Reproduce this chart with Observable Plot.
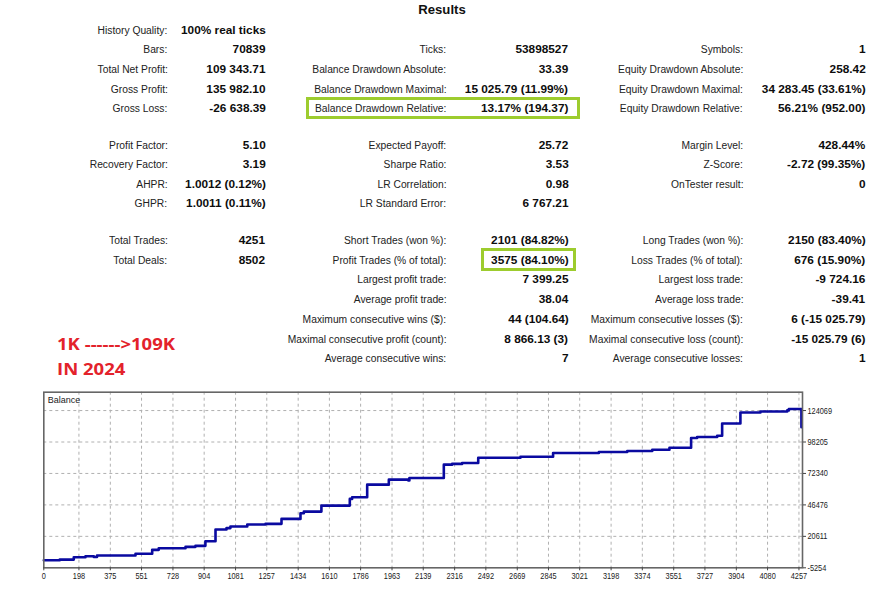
<!DOCTYPE html>
<html>
<head>
<meta charset="utf-8">
<script src="https://cdn.jsdelivr.net/npm/d3@7"></script>
<script src="https://cdn.jsdelivr.net/npm/@observablehq/plot@0.6"></script>
<style>
  html, body { margin: 0; padding: 0; background: #fff; }
  #page { position: relative; width: 873px; height: 600px; overflow: hidden; background: #fff; }
  .t { position: absolute; white-space: nowrap; line-height: 14px; height: 14px; }
  .lab { font-family: "Liberation Sans", Arial, sans-serif; font-size: 11.7px; color: #222; transform-origin: right center; text-align: right; }
  .val { font-family: "Liberation Sans", Arial, sans-serif; font-size: 11.7px; font-weight: bold; color: #0d0d0d; transform-origin: right center; text-align: right; }
  .box { position: absolute; box-sizing: border-box; border: 3.3px solid #9dcc2e; }
  #chart { position: absolute; left: 0; top: 385px; }
</style>
</head>
<body>
<div id="page"></div>
<script>
// ---------- DATA ----------
const title = "Results";
const col1Labels = ["History Quality:", "Bars:", "Total Net Profit:", "Gross Profit:", "Gross Loss:", "Profit Factor:", "Recovery Factor:", "AHPR:", "GHPR:", "Total Trades:", "Total Deals:", "", "", "", "", ""];
const col1Values = ["100% real ticks", "70839", "109 343.71", "135 982.10", "-26 638.39", "5.10", "3.19", "1.0012 (0.12%)", "1.0011 (0.11%)", "4251", "8502", "", "", "", "", ""];
const col2Labels = ["", "Ticks:", "Balance Drawdown Absolute:", "Balance Drawdown Maximal:", "Balance Drawdown Relative:", "Expected Payoff:", "Sharpe Ratio:", "LR Correlation:", "LR Standard Error:", "Short Trades (won %):", "Profit Trades (% of total):", "Largest profit trade:", "Average profit trade:", "Maximum consecutive wins ($):", "Maximal consecutive profit (count):", "Average consecutive wins:"];
const col2Values = ["", "53898527", "33.39", "15 025.79 (11.99%)", "13.17% (194.37)", "25.72", "3.53", "0.98", "6 767.21", "2101 (84.82%)", "3575 (84.10%)", "7 399.25", "38.04", "44 (104.64)", "8 866.13 (3)", "7"];
const col3Labels = ["", "Symbols:", "Equity Drawdown Absolute:", "Equity Drawdown Maximal:", "Equity Drawdown Relative:", "Margin Level:", "Z-Score:", "OnTester result:", "", "Long Trades (won %):", "Loss Trades (% of total):", "Largest loss trade:", "Average loss trade:", "Maximum consecutive losses ($):", "Maximal consecutive loss (count):", "Average consecutive losses:"];
const col3Values = ["", "1", "258.42", "34 283.45 (33.61%)", "56.21% (952.00)", "428.44%", "-2.72 (99.35%)", "0", "", "2150 (83.40%)", "676 (15.90%)", "-9 724.16", "-39.41", "6 (-15 025.79)", "-15 025.79 (6)", "1"];
const noteLines = ["1K ------>109K", "IN 2024"];

const seriesName = "Balance";
const trades  = [0, 90, 169, 235, 282, 300, 517, 611, 648, 799, 855, 911, 968, 1030, 1052, 1147, 1250, 1340, 1447, 1466, 1565, 1725, 1738, 1823, 1945, 2055, 2061, 2255, 2302, 2358, 2449, 2687, 2871, 3129, 3289, 3430, 3527, 3649, 3683, 3796, 3824, 3927, 4040, 4191, 4200, 4271];
const balance = [1000, 1500, 3450, 4300, 3600, 4846, 6241, 9526, 10840, 11989, 12810, 16587, 26194, 27400, 28657, 30300, 30874, 34980, 39578, 40974, 45901, 51402, 52716, 63144, 67249, 66600, 68645, 79566, 80200, 80962, 85313, 86134, 89173, 89994, 90815, 91882, 93524, 101489, 102310, 103378, 113477, 122509, 123330, 124200, 125301, 110344];
const xTicks = [0, 198, 375, 551, 728, 904, 1081, 1257, 1434, 1610, 1786, 1963, 2139, 2316, 2492, 2669, 2845, 3021, 3198, 3374, 3551, 3727, 3904, 4080, 4257];
const yTicks = [-5254, 20611, 46476, 72340, 98205, 124069];

// ---------- LAYOUT ----------
const page = document.getElementById("page");
const ctx = document.createElement("canvas").getContext("2d");
function measure(text, font) { ctx.font = font; return ctx.measureText(text).width; }
const labFont = '11.7px "Liberation Sans"';
const valFont = 'bold 11.7px "Liberation Sans"';
const labScale = 134.3 / measure("Balance Drawdown Absolute:", labFont);
const valScale = 52.6 / measure("53898527", valFont);

function rowY(i) {
  if (i <= 4) return 29.7 + i * 19.65;
  if (i <= 8) return 145 + (i - 5) * 19.45;
  return 240 + (i - 9) * 19.72;
}
function addText(txt, cls, rightX, cy, scale) {
  if (!txt) return;
  const d = document.createElement("div");
  d.className = "t " + cls;
  d.textContent = txt;
  d.style.right = (873 - rightX) + "px";
  d.style.top = (cy - 7) + "px";
  d.style.transform = "scaleX(" + scale + ")";
  page.appendChild(d);
}
const cols = [
  [col1Labels, col1Values, 167.5, 265.5],
  [col2Labels, col2Values, 446.5, 568.5],
  [col3Labels, col3Values, 743, 865.5]
];
cols.forEach(([labs, vals, lx, vx]) => {
  labs.forEach((l, i) => {
    addText(l, "lab", lx, rowY(i), labScale);
    addText(vals[i], "val", vx, rowY(i), valScale);
  });
});

// title
{
  const f = 'bold 13.5px "Liberation Sans"';
  const s = 47.5 / measure(title, f);
  const d = document.createElement("div");
  d.className = "t";
  d.textContent = title;
  d.style.font = f;
  d.style.color = "#111";
  d.style.left = (442 - 60) + "px";
  d.style.width = "120px";
  d.style.textAlign = "center";
  d.style.top = (8.5 - 7) + "px";
  d.style.transform = "scaleX(" + s + ")";
  page.appendChild(d);
}

// highlight boxes
[[306, 97.3, 273.5, 21.8], [481, 248.3, 95, 22.4]].forEach(([x, y, w, h]) => {
  const b = document.createElement("div");
  b.className = "box";
  b.style.left = x + "px"; b.style.top = y + "px";
  b.style.width = w + "px"; b.style.height = h + "px";
  page.appendChild(b);
});

// red note
{
  const f = 'bold 16.5px "Open Sans"';
  const s = 118 / measure(noteLines[0], f);
  noteLines.forEach((txt, i) => {
    const d = document.createElement("div");
    d.className = "t";
    d.textContent = txt;
    d.style.font = f;
    d.style.lineHeight = "20px";
    d.style.height = "20px";
    d.style.color = "#e3222b";
    d.style.left = "57px";
    d.style.top = ([344, 369][i] - 10) + "px";
    d.style.transformOrigin = "left center";
    d.style.transform = "scaleX(" + s + ")";
    page.appendChild(d);
  });
}

// ---------- CHART ----------
const data = trades.map((t, i) => ({trade: t, balance: balance[i]}));
const mT = 6.7, mB = 17.7, mL = 43.3, mR = 71;
const H = 200;
const plotH = H - mT - mB;
const perPx = (yTicks[1] - yTicks[0]) / 31.45;
const yTop = yTicks[0] + plotH * perPx;

const chart = Plot.plot({
  width: 873,
  height: H,
  marginTop: mT, marginBottom: mB, marginLeft: mL, marginRight: mR,
  style: {fontFamily: '"Liberation Sans", Arial, sans-serif', fontSize: "9.2px", color: "#1a1a1a", background: "transparent", overflow: "visible"},
  x: {domain: [0, 4277]},
  y: {domain: [yTicks[0], yTop]},
  marks: [
    Plot.gridX(xTicks.slice(1), {stroke: "#b0b0b0", strokeOpacity: 1, strokeDasharray: "3,3"}),
    Plot.gridY(yTicks.slice(1), {stroke: "#b0b0b0", strokeOpacity: 1, strokeDasharray: "3,3"}),
    Plot.line(data, {x: "trade", y: "balance", curve: "step-after", stroke: "#0a0aa0", strokeWidth: 2.6}),
    Plot.frame({stroke: "#666", strokeWidth: 1.6}),
    Plot.axisX(xTicks, {tickSize: 3, tickPadding: 2, tickFormat: d => String(d), label: null, stroke: "#444"}),
    Plot.axisY(yTicks, {anchor: "right", tickSize: 3, tickPadding: 2, tickFormat: d => String(d), label: null, stroke: "#444"}),
    Plot.text([seriesName], {frameAnchor: "top-left", dx: 4, dy: 4, fontSize: 9, fill: "#222"})
  ]
});
chart.id = "chart";
page.appendChild(chart);

// squeeze tick labels horizontally (narrow screen font in the original)
chart.querySelectorAll('g[aria-label="x-axis tick label"] text, g[aria-label="y-axis tick label"] text').forEach(t => {
  const len = t.getComputedTextLength();
  if (len > 0) {
    t.setAttribute("textLength", (len * 0.8).toFixed(2));
    t.setAttribute("lengthAdjust", "spacingAndGlyphs");
  }
});
</script>
</body>
</html>
